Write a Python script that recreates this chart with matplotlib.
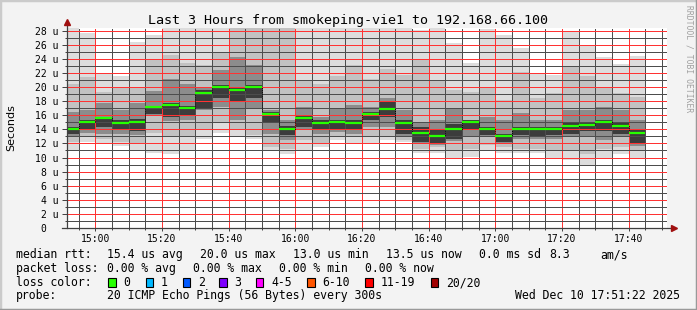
import numpy as np
import pandas as pd
import matplotlib
matplotlib.use("Agg")
import matplotlib.pyplot as plt
import matplotlib.dates as mdates
from matplotlib.patches import Rectangle
from matplotlib.lines import Line2D

W, H = 697, 310

TITLE = "Last 3 Hours from smokeping-vie1 to 192.168.66.100"

# debut de chaque pas de 5 minutes
times = pd.date_range("2025-12-10 14:50", periods=35, freq="5min")
t_start = pd.Timestamp("2025-12-10 14:51:22")
t_end = pd.Timestamp("2025-12-10 17:51:22")

# mediane (us)
median = [14.1, 15.1, 15.6, 14.9, 15.1, 17.2, 17.4, 17.0, 19.2, 20.0,
          19.6, 20.0, 16.2, 14.1, 15.6, 14.9, 15.1, 14.9, 16.2, 16.9,
          14.9, 13.5, 13.0, 14.1, 15.1, 14.0, 13.0, 14.1, 14.0, 14.1,
          14.5, 14.6, 15.1, 14.5, 13.5]

# fumee : min / max des pings
smoke_lo = [11.1, 12.2, 12.1, 11.7, 11.0, 10.6, 10.5, 11.0, 12.7, 13.5,
            13.1, 12.6, 11.0, 10.5, 11.0, 11.5, 12.5, 12.0, 12.0, 12.5,
            12.2, 10.6, 10.6, 10.0, 10.1, 11.0, 10.6, 10.6, 10.6, 10.0,
            9.6, 8.9, 10.0, 10.5, 10.0]
smoke_hi = [28.6, 27.6, 21.9, 21.5, 26.4, 27.4, 28.6, 28.6, 28.6, 28.6,
            28.6, 28.6, 28.6, 28.6, 28.6, 28.6, 28.6, 28.6, 28.6, 28.6,
            28.6, 28.1, 28.6, 26.2, 23.4, 28.2, 27.4, 25.5, 21.8, 21.7,
            28.0, 25.8, 24.3, 23.3, 24.4]

# bande intermediaire
band2_lo = [12.2, 13.0, 12.6, 12.2, 12.0, 13.5, 13.0, 13.0, 13.9, 15.0,
            14.0, 13.2, 11.5, 11.2, 12.5, 12.0, 13.0, 12.9, 12.9, 13.0,
            12.5, 11.2, 11.5, 11.0, 11.2, 11.8, 11.5, 11.2, 11.2, 11.0,
            11.0, 10.5, 11.2, 11.5, 11.0]
band2_hi = [20.5, 21.4, 19.3, 20.0, 20.0, 23.8, 24.5, 23.4, 23.1, 25.0,
            28.6, 28.6, 28.6, 28.6, 21.0, 20.5, 21.5, 23.1, 21.2, 22.6,
            21.7, 23.8, 21.0, 19.6, 19.3, 20.0, 18.2, 22.2, 18.4, 19.1,
            22.9, 21.5, 19.8, 19.1, 18.6]

# bande foncee
band3_lo = [12.9, 13.5, 13.4, 13.4, 13.2, 16.0, 15.2, 15.3, 16.7, 17.2,
            15.3, 17.0, 13.4, 12.5, 14.0, 13.4, 13.6, 13.4, 14.4, 14.4,
            13.0, 12.0, 11.8, 12.4, 13.0, 13.0, 11.9, 12.7, 12.6, 12.7,
            12.9, 13.0, 12.5, 13.0, 11.6]
band3_hi = [16.5, 16.7, 17.7, 16.7, 17.7, 19.5, 21.2, 20.5, 20.0, 22.4,
            24.3, 23.1, 16.7, 15.3, 17.2, 15.8, 17.0, 17.5, 17.2, 18.4,
            16.7, 15.0, 15.3, 17.0, 15.3, 15.8, 15.3, 16.3, 15.3, 15.3,
            16.7, 16.7, 17.2, 16.7, 15.3]

# coeur autour de la mediane
core_lo = [13.4, 14.0, 14.3, 13.9, 13.7, 16.2, 15.8, 16.0, 17.0, 18.4,
           17.9, 18.4, 15.1, 13.2, 14.4, 13.9, 13.9, 13.9, 15.3, 15.8,
           13.4, 12.2, 12.0, 12.7, 13.9, 13.2, 12.2, 13.2, 13.0, 13.2,
           13.4, 13.7, 13.7, 13.4, 12.0]
core_hi = [14.4, 15.3, 15.8, 15.3, 15.4, 17.3, 17.7, 17.3, 19.6, 20.3,
           19.8, 20.3, 16.4, 14.5, 15.9, 15.3, 15.3, 15.3, 16.4, 17.9,
           15.3, 14.4, 14.1, 14.8, 15.3, 14.4, 13.4, 14.4, 14.4, 14.4,
           15.1, 15.1, 15.3, 15.1, 14.1]

legend_rtt = ["15.4 us avg", "20.0 us max", "13.0 us min", "13.5 us now",
              "0.0 ms sd", "8.3", "am/s"]
legend_loss = ["0.00 % avg", "0.00 % max", "0.00 % min", "0.00 % now"]
loss_labels = ["0", "1", "2", "3", "4-5", "6-10", "11-19", "20/20"]
loss_colors = ["#26ff00", "#00b8ff", "#0059ff", "#7e00ff", "#ff00ff",
               "#ff5500", "#ff0000", "#a10000"]
probe_text = "20 ICMP Echo Pings (56 Bytes) every 300s"
date_text = "Wed Dec 10 17:51:22 2025"

MONO = "DejaVu Sans Mono"


def px(x, y):
    return x / W, 1 - y / H


fig = plt.figure(figsize=(W / 100, H / 100), dpi=100)
fig.patch.set_facecolor("#f3f3f3")

ax = fig.add_axes([66.5 / W, 82 / H, 600 / W, 200 / H])
ax.set_facecolor("white")

x = mdates.date2num(times.to_pydatetime())
step = 5 / 1440.0
x_edges = np.append(x, x[-1] + step)
med = np.array(median)

layers = [
    (smoke_lo, smoke_hi, "#dddddd"),
    (band2_lo, band2_hi, "#c2c2c2"),
    (band3_lo, band3_hi, "#8c8c8c"),
    (core_lo, core_hi, "#3c3c3c"),
]
for lo, hi, col in layers:
    lo = np.array(lo)
    hi = np.array(hi)
    ax.bar(x, hi - lo, bottom=lo, width=step, align="edge", color=col,
           linewidth=0, antialiased=False, zorder=1)

ax.stairs(med, x_edges, baseline=None, color="black",
          linestyle=(0, (1, 1)), linewidth=0.7, zorder=2.8)
ax.hlines(med, x, x + step, color=loss_colors[0], linewidth=1.6, zorder=3)

ax.set_xlim(mdates.date2num(t_start), mdates.date2num(t_end))
ax.set_ylim(0, 28.38)

ax.xaxis.set_major_locator(mdates.MinuteLocator(byminute=[0, 20, 40]))
ax.xaxis.set_minor_locator(
    mdates.MinuteLocator(byminute=[5, 10, 15, 25, 30, 35, 45, 50, 55]))
ax.xaxis.set_major_formatter(mdates.DateFormatter("%H:%M"))
ax.yaxis.set_minor_locator(plt.MultipleLocator(1))
yt = np.arange(0, 29, 2)
ax.set_yticks(yt)
ax.set_yticklabels(["%d u" % v if v else "0  " for v in yt])

ax.tick_params(axis="y", which="major", length=3.6, width=0.7, pad=2.2,
               color="#404040", labelsize=7)
ax.tick_params(axis="y", which="minor", length=1.5, width=0.7, color="#404040")
ax.tick_params(axis="x", which="major", length=2, width=0.7, pad=2.5,
               color="#404040", labelsize=7)
ax.tick_params(axis="x", which="minor", length=1.5, width=0.7, color="#404040")
for lab in ax.get_xticklabels() + ax.get_yticklabels():
    lab.set_family(MONO)

# grille pointillee, par dessus la fumee
ax.set_axisbelow(False)
ax.grid(which="minor", color=(0.3, 0.3, 0.3, 0.3), linestyle=(0, (1, 1)),
        linewidth=0.72, antialiased=False)
ax.grid(which="major", color=(1.0, 0.2, 0.2, 0.42), linestyle=(0, (1, 1)),
        linewidth=0.72, antialiased=False)

for s in ax.spines.values():
    s.set_visible(False)

# axes avec fleches
ax.add_line(Line2D([0, 0], [0, 1.03], transform=ax.transAxes, color="#404040",
                   linewidth=0.9, clip_on=False, zorder=4))
ax.add_line(Line2D([-0.008, 1.01], [0, 0], transform=ax.transAxes,
                   color="#404040", linewidth=0.9, clip_on=False, zorder=4))
ax.plot([0], [1.032], marker="^", markersize=4.5, color="#a01010",
        transform=ax.transAxes, clip_on=False, zorder=5)
ax.plot([1.012], [0], marker=">", markersize=4.5, color="#a01010",
        transform=ax.transAxes, clip_on=False, zorder=5)

# textes
fig.text(*px(348.5, 24.3), TITLE, family=MONO, fontsize=9.6, ha="center",
         va="baseline")
fig.text(*px(11, 128), "Seconds", fontsize=8, rotation=90, ha="center",
         va="center")
fig.text(*px(688.5, 5), "RRDTOOL / TOBI OETIKER", family=MONO, fontsize=5.8,
         rotation=-90, ha="center", va="top", color="#a0a0a0")

fs = 8.3
y1, y2, y3, y4 = 258.3, 271.7, 286.0, 299.3
fig.text(*px(16, y1), "median rtt:", family=MONO, fontsize=fs, va="baseline")
for xx, s in zip([107.3, 200, 293.3, 386, 479.3, 549.3, 600], legend_rtt):
    fig.text(*px(xx, y1), s, family=MONO, fontsize=fs, va="baseline")

fig.text(*px(16, y2), "packet loss:", family=MONO, fontsize=fs, va="baseline")
for xx, s in zip([107.3, 193.3, 279.3, 365], legend_loss):
    fig.text(*px(xx, y2), s, family=MONO, fontsize=fs, va="baseline")

fig.text(*px(16, y3), "loss color:", family=MONO, fontsize=fs, va="baseline")
box_x = [108.3, 145.7, 182.7, 219.3, 256, 307.3, 365.3, 430.7]
for bx, lab, col in zip(box_x, loss_labels, loss_colors):
    fig.patches.append(Rectangle(px(bx, 286.7), 7.4 / W, 8.4 / H,
                                 transform=fig.transFigure, facecolor=col,
                                 edgecolor="black", linewidth=0.8))
    fig.text(*px(bx + 15, y3), lab, family=MONO, fontsize=fs, va="baseline")

fig.text(*px(16, y4), "probe:", family=MONO, fontsize=fs, va="baseline")
fig.text(*px(107.3, y4), probe_text, family=MONO, fontsize=fs, va="baseline")
fig.text(*px(680, y4), date_text, family=MONO, fontsize=fs, va="baseline",
         ha="right")

# cadre
fig.add_artist(Line2D([0, 0, 1], [0, 1, 1], transform=fig.transFigure,
                      color="#cbcbcb", linewidth=2.5))
fig.add_artist(Line2D([0, 1, 1], [0, 0, 1], transform=fig.transFigure,
                      color="#999999", linewidth=2.5))

fig.savefig("out.png", dpi=100, facecolor=fig.get_facecolor())
